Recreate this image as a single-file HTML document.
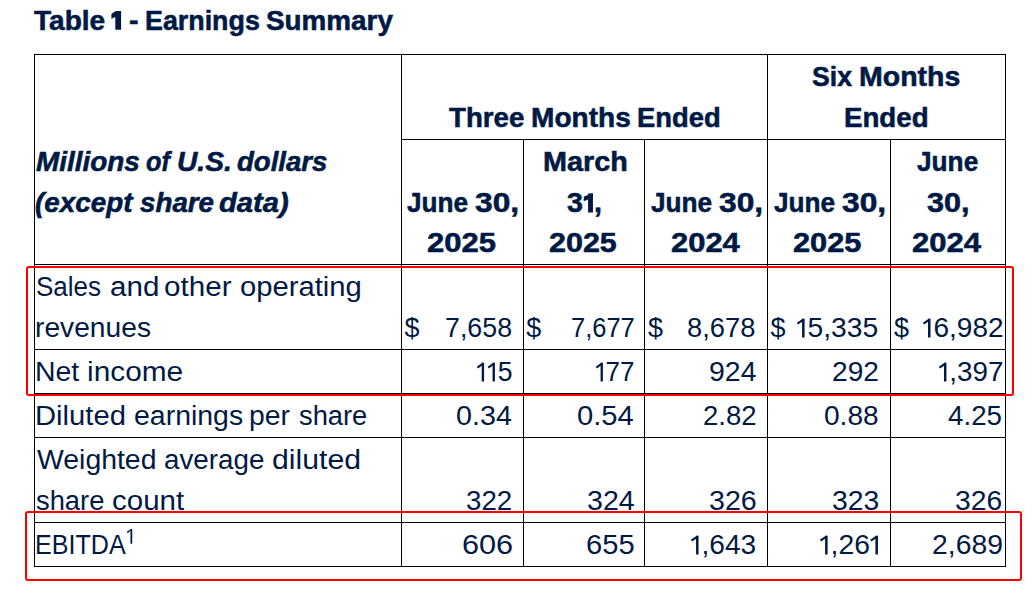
<!DOCTYPE html>
<html><head><meta charset="utf-8"><title>Table 1 - Earnings Summary</title>
<style>
html,body{margin:0;padding:0;background:#fff;width:1034px;height:598px;overflow:hidden}
body{position:relative;font-family:"Liberation Sans",sans-serif;color:#001a45}
.t{position:absolute;white-space:pre;line-height:40px}
.h{position:absolute;height:1px;background:#000}
.v{position:absolute;width:1px;background:#000}
.o{position:relative;color:transparent;-webkit-text-stroke-color:transparent}
.os{position:absolute;left:0;top:0;fill:#001a45;color:#001a45}
.box{position:absolute;box-sizing:border-box;border:2px solid #ff0000;border-radius:3px}
</style></head><body>
<div class="h" style="left:34px;top:54px;width:972px"></div>
<div class="h" style="left:401px;top:139px;width:605px"></div>
<div class="h" style="left:34px;top:264px;width:972px"></div>
<div class="h" style="left:34px;top:349px;width:972px"></div>
<div class="h" style="left:34px;top:393px;width:972px"></div>
<div class="h" style="left:34px;top:437px;width:972px"></div>
<div class="h" style="left:34px;top:522px;width:972px"></div>
<div class="h" style="left:34px;top:566px;width:972px"></div>
<div class="v" style="left:34px;top:54px;height:513px"></div>
<div class="v" style="left:401px;top:54px;height:513px"></div>
<div class="v" style="left:523px;top:139px;height:428px"></div>
<div class="v" style="left:644px;top:139px;height:428px"></div>
<div class="v" style="left:767px;top:54px;height:513px"></div>
<div class="v" style="left:890px;top:139px;height:428px"></div>
<div class="v" style="left:1005px;top:54px;height:513px"></div>
<div class="t" style="left:34.30px;top:1.00px;font-size:27px;font-weight:bold;font-style:normal;transform:scaleX(1.0397);transform-origin:0 0;-webkit-text-stroke:0.55px currentColor">Table</div>
<div class="t" style="left:128.60px;top:1.00px;font-size:27px;font-weight:bold;font-style:normal;transform:scaleX(1.0571);transform-origin:0 0;-webkit-text-stroke:0.55px currentColor">-</div>
<div class="t" style="left:144.70px;top:1.00px;font-size:27px;font-weight:bold;font-style:normal;transform:scaleX(0.9939);transform-origin:0 0;-webkit-text-stroke:0.55px currentColor">Earnings</div>
<div class="t" style="left:265.70px;top:1.00px;font-size:27px;font-weight:bold;font-style:normal;transform:scaleX(1.0311);transform-origin:0 0;-webkit-text-stroke:0.55px currentColor">Summary</div>
<div class="t" style="left:449.30px;top:97.80px;font-size:27px;font-weight:bold;font-style:normal;transform:scaleX(1.0247);transform-origin:0 0;-webkit-text-stroke:0.55px currentColor">Three</div>
<div class="t" style="left:531.30px;top:97.80px;font-size:27px;font-weight:bold;font-style:normal;transform:scaleX(1.0394);transform-origin:0 0;-webkit-text-stroke:0.55px currentColor">Months</div>
<div class="t" style="left:636.90px;top:97.80px;font-size:27px;font-weight:bold;font-style:normal;transform:scaleX(1.0138);transform-origin:0 0;-webkit-text-stroke:0.55px currentColor">Ended</div>
<div class="t" style="left:811.90px;top:56.70px;font-size:27px;font-weight:bold;font-style:normal;transform:scaleX(0.9875);transform-origin:0 0;-webkit-text-stroke:0.55px currentColor">Six</div>
<div class="t" style="left:859.00px;top:56.70px;font-size:27px;font-weight:bold;font-style:normal;transform:scaleX(1.0553);transform-origin:0 0;-webkit-text-stroke:0.55px currentColor">Months</div>
<div class="t" style="left:844.40px;top:97.80px;font-size:27px;font-weight:bold;font-style:normal;transform:scaleX(1.0250);transform-origin:0 0;-webkit-text-stroke:0.55px currentColor">Ended</div>
<div class="t" style="left:36.40px;top:142.00px;font-size:27px;font-weight:bold;font-style:italic;transform:scaleX(1.0330);transform-origin:0 0;-webkit-text-stroke:0.55px currentColor">Millions</div>
<div class="t" style="left:146.00px;top:142.00px;font-size:27px;font-weight:bold;font-style:italic;transform:scaleX(0.9357);transform-origin:0 0;-webkit-text-stroke:0.55px currentColor">of</div>
<div class="t" style="left:177.00px;top:142.00px;font-size:27px;font-weight:bold;font-style:italic;transform:scaleX(1.0440);transform-origin:0 0;-webkit-text-stroke:0.55px currentColor">U.S.</div>
<div class="t" style="left:236.60px;top:142.00px;font-size:27px;font-weight:bold;font-style:italic;transform:scaleX(1.0216);transform-origin:0 0;-webkit-text-stroke:0.55px currentColor">dollars</div>
<div class="t" style="left:35.40px;top:182.50px;font-size:27px;font-weight:bold;font-style:italic;transform:scaleX(1.0316);transform-origin:0 0;-webkit-text-stroke:0.55px currentColor">(except</div>
<div class="t" style="left:140.20px;top:182.50px;font-size:27px;font-weight:bold;font-style:italic;transform:scaleX(1.0278);transform-origin:0 0;-webkit-text-stroke:0.55px currentColor">share</div>
<div class="t" style="left:219.10px;top:182.50px;font-size:27px;font-weight:bold;font-style:italic;transform:scaleX(1.0797);transform-origin:0 0;-webkit-text-stroke:0.55px currentColor">data)</div>
<div class="t" style="left:407.30px;top:182.50px;font-size:27px;font-weight:bold;font-style:normal;transform:scaleX(0.9698);transform-origin:0 0;-webkit-text-stroke:0.55px currentColor">June</div>
<div class="t" style="left:475.00px;top:182.50px;font-size:27px;font-weight:bold;font-style:normal;transform:scaleX(1.1750);transform-origin:0 0;-webkit-text-stroke:0.55px currentColor">30,</div>
<div class="t" style="left:651.10px;top:182.50px;font-size:27px;font-weight:bold;font-style:normal;transform:scaleX(0.9698);transform-origin:0 0;-webkit-text-stroke:0.55px currentColor">June</div>
<div class="t" style="left:718.80px;top:182.50px;font-size:27px;font-weight:bold;font-style:normal;transform:scaleX(1.1750);transform-origin:0 0;-webkit-text-stroke:0.55px currentColor">30,</div>
<div class="t" style="left:774.30px;top:182.50px;font-size:27px;font-weight:bold;font-style:normal;transform:scaleX(0.9698);transform-origin:0 0;-webkit-text-stroke:0.55px currentColor">June</div>
<div class="t" style="left:842.00px;top:182.50px;font-size:27px;font-weight:bold;font-style:normal;transform:scaleX(1.1750);transform-origin:0 0;-webkit-text-stroke:0.55px currentColor">30,</div>
<div class="t" style="left:426.80px;top:222.50px;font-size:27px;font-weight:bold;font-style:normal;transform:scaleX(1.1483);transform-origin:0 0;-webkit-text-stroke:0.55px currentColor">2025</div>
<div class="t" style="left:542.90px;top:142.00px;font-size:27px;font-weight:bold;font-style:normal;transform:scaleX(1.0662);transform-origin:0 0;-webkit-text-stroke:0.55px currentColor">March</div>
<div class="t" style="left:566.80px;top:182.50px;font-size:27px;font-weight:bold;font-style:normal;transform:scaleX(1.0594);transform-origin:0 0;-webkit-text-stroke:0.55px currentColor">3<span class="o" style="margin:0 -3.5px 0 -1px">1<svg class="os" width="15" height="27" viewBox="0 0 15 27"><path d="M5.9 5.4H10.5V24.6H5.9Z"/><path d="M8.6 5.4L10.5 5.4L10.5 9.6L5.9 11.6L1.8 13.2L1.8 8.8Q5 7.4 8.6 5.4Z"/></svg></span>,</div>
<div class="t" style="left:548.90px;top:222.50px;font-size:27px;font-weight:bold;font-style:normal;transform:scaleX(1.1283);transform-origin:0 0;-webkit-text-stroke:0.55px currentColor">2025</div>
<div class="t" style="left:670.60px;top:222.50px;font-size:27px;font-weight:bold;font-style:normal;transform:scaleX(1.1450);transform-origin:0 0;-webkit-text-stroke:0.55px currentColor">2024</div>
<div class="t" style="left:793.40px;top:222.50px;font-size:27px;font-weight:bold;font-style:normal;transform:scaleX(1.1400);transform-origin:0 0;-webkit-text-stroke:0.55px currentColor">2025</div>
<div class="t" style="left:917.30px;top:142.00px;font-size:27px;font-weight:bold;font-style:normal;transform:scaleX(0.9714);transform-origin:0 0;-webkit-text-stroke:0.55px currentColor">June</div>
<div class="t" style="left:927.20px;top:182.50px;font-size:27px;font-weight:bold;font-style:normal;transform:scaleX(1.1306);transform-origin:0 0;-webkit-text-stroke:0.55px currentColor">30,</div>
<div class="t" style="left:912.00px;top:222.50px;font-size:27px;font-weight:bold;font-style:normal;transform:scaleX(1.1500);transform-origin:0 0;-webkit-text-stroke:0.55px currentColor">2024</div>
<div class="t" style="left:36.20px;top:266.50px;font-size:27px;font-weight:normal;font-style:normal;transform:scaleX(0.9621);transform-origin:0 0">Sales</div>
<div class="t" style="left:109.60px;top:266.50px;font-size:27px;font-weight:normal;font-style:normal;transform:scaleX(1.0952);transform-origin:0 0">and</div>
<div class="t" style="left:163.80px;top:266.50px;font-size:27px;font-weight:normal;font-style:normal;transform:scaleX(1.0967);transform-origin:0 0">other</div>
<div class="t" style="left:239.50px;top:266.50px;font-size:27px;font-weight:normal;font-style:normal;transform:scaleX(1.0818);transform-origin:0 0">operating</div>
<div class="t" style="left:35.20px;top:307.50px;font-size:27px;font-weight:normal;font-style:normal;transform:scaleX(1.0444);transform-origin:0 0">revenues</div>
<div class="t" style="left:35.20px;top:351.90px;font-size:27px;font-weight:normal;font-style:normal;transform:scaleX(1.0525);transform-origin:0 0">Net</div>
<div class="t" style="left:86.50px;top:351.90px;font-size:27px;font-weight:normal;font-style:normal;transform:scaleX(1.1048);transform-origin:0 0">income</div>
<div class="t" style="left:35.20px;top:395.80px;font-size:27px;font-weight:normal;font-style:normal;transform:scaleX(1.0813);transform-origin:0 0">Diluted</div>
<div class="t" style="left:133.60px;top:395.80px;font-size:27px;font-weight:normal;font-style:normal;transform:scaleX(1.0539);transform-origin:0 0">earnings</div>
<div class="t" style="left:249.00px;top:395.80px;font-size:27px;font-weight:normal;font-style:normal;transform:scaleX(1.0486);transform-origin:0 0">per</div>
<div class="t" style="left:299.30px;top:395.80px;font-size:27px;font-weight:normal;font-style:normal;transform:scaleX(1.0106);transform-origin:0 0">share</div>
<div class="t" style="left:37.20px;top:439.70px;font-size:27px;font-weight:normal;font-style:normal;transform:scaleX(1.0518);transform-origin:0 0">Weighted</div>
<div class="t" style="left:163.80px;top:439.70px;font-size:27px;font-weight:normal;font-style:normal;transform:scaleX(1.0281);transform-origin:0 0">average</div>
<div class="t" style="left:271.70px;top:439.70px;font-size:27px;font-weight:normal;font-style:normal;transform:scaleX(1.1182);transform-origin:0 0">diluted</div>
<div class="t" style="left:36.20px;top:480.80px;font-size:27px;font-weight:normal;font-style:normal;transform:scaleX(1.0121);transform-origin:0 0">share</div>
<div class="t" style="left:111.90px;top:480.80px;font-size:27px;font-weight:normal;font-style:normal;transform:scaleX(1.0923);transform-origin:0 0">count</div>
<div class="t" style="left:35.20px;top:524.90px;font-size:27px;font-weight:normal;font-style:normal;transform:scaleX(0.9295);transform-origin:0 0">EBITDA</div>
<div class="t" style="left:444.90px;top:307.50px;font-size:27px;font-weight:normal;font-style:normal;transform:scaleX(0.9924);transform-origin:0 0">7,658</div>
<div class="t" style="left:571.00px;top:307.50px;font-size:27px;font-weight:normal;font-style:normal;transform:scaleX(0.9431);transform-origin:0 0">7,677</div>
<div class="t" style="left:687.30px;top:307.50px;font-size:27px;font-weight:normal;font-style:normal;transform:scaleX(1.0121);transform-origin:0 0">8,678</div>
<div class="t" style="left:796.40px;top:307.50px;font-size:27px;font-weight:normal;font-style:normal;transform:scaleX(1.0468);transform-origin:0 0"><span class="o" style="margin:0 -2.5px 0 -1.5px">1<svg class="os" width="15" height="27" viewBox="0 0 15 27"><path d="M6.8 5.8H9.2V24.4H6.8Z"/><path d="M8.4 6.4L2.4 10.6" stroke="currentColor" stroke-width="2.1" fill="none"/></svg></span>5,335</div>
<div class="t" style="left:921.60px;top:307.50px;font-size:27px;font-weight:normal;font-style:normal;transform:scaleX(1.0382);transform-origin:0 0"><span class="o" style="margin:0 -2.5px 0 -1.5px">1<svg class="os" width="15" height="27" viewBox="0 0 15 27"><path d="M6.8 5.8H9.2V24.4H6.8Z"/><path d="M8.4 6.4L2.4 10.6" stroke="currentColor" stroke-width="2.1" fill="none"/></svg></span>6,982</div>
<div class="t" style="left:475.90px;top:351.90px;font-size:27px;font-weight:normal;font-style:normal;transform:scaleX(0.9857);transform-origin:0 0"><span class="o" style="margin:0 -2.5px 0 -1.5px">1<svg class="os" width="15" height="27" viewBox="0 0 15 27"><path d="M6.8 5.8H9.2V24.4H6.8Z"/><path d="M8.4 6.4L2.4 10.6" stroke="currentColor" stroke-width="2.1" fill="none"/></svg></span><span class="o" style="margin:0 -2.5px 0 -1.5px">1<svg class="os" width="15" height="27" viewBox="0 0 15 27"><path d="M6.8 5.8H9.2V24.4H6.8Z"/><path d="M8.4 6.4L2.4 10.6" stroke="currentColor" stroke-width="2.1" fill="none"/></svg></span>5</div>
<div class="t" style="left:594.80px;top:351.90px;font-size:27px;font-weight:normal;font-style:normal;transform:scaleX(0.9615);transform-origin:0 0"><span class="o" style="margin:0 -2.5px 0 -1.5px">1<svg class="os" width="15" height="27" viewBox="0 0 15 27"><path d="M6.8 5.8H9.2V24.4H6.8Z"/><path d="M8.4 6.4L2.4 10.6" stroke="currentColor" stroke-width="2.1" fill="none"/></svg></span>77</div>
<div class="t" style="left:708.80px;top:351.90px;font-size:27px;font-weight:normal;font-style:normal;transform:scaleX(1.0535);transform-origin:0 0">924</div>
<div class="t" style="left:832.20px;top:351.90px;font-size:27px;font-weight:normal;font-style:normal;transform:scaleX(1.0419);transform-origin:0 0">292</div>
<div class="t" style="left:937.70px;top:351.90px;font-size:27px;font-weight:normal;font-style:normal;transform:scaleX(1.0295);transform-origin:0 0"><span class="o" style="margin:0 -2.5px 0 -1.5px">1<svg class="os" width="15" height="27" viewBox="0 0 15 27"><path d="M6.8 5.8H9.2V24.4H6.8Z"/><path d="M8.4 6.4L2.4 10.6" stroke="currentColor" stroke-width="2.1" fill="none"/></svg></span>,397</div>
<div class="t" style="left:456.20px;top:395.80px;font-size:27px;font-weight:normal;font-style:normal;transform:scaleX(1.0627);transform-origin:0 0">0.34</div>
<div class="t" style="left:577.20px;top:395.80px;font-size:27px;font-weight:normal;font-style:normal;transform:scaleX(1.0804);transform-origin:0 0">0.54</div>
<div class="t" style="left:703.10px;top:395.80px;font-size:27px;font-weight:normal;font-style:normal;transform:scaleX(1.0200);transform-origin:0 0">2.82</div>
<div class="t" style="left:824.00px;top:395.80px;font-size:27px;font-weight:normal;font-style:normal;transform:scaleX(1.0392);transform-origin:0 0">0.88</div>
<div class="t" style="left:948.10px;top:395.80px;font-size:27px;font-weight:normal;font-style:normal;transform:scaleX(1.0275);transform-origin:0 0">4.25</div>
<div class="t" style="left:466.30px;top:480.80px;font-size:27px;font-weight:normal;font-style:normal;transform:scaleX(1.0256);transform-origin:0 0">322</div>
<div class="t" style="left:586.80px;top:480.80px;font-size:27px;font-weight:normal;font-style:normal;transform:scaleX(1.0581);transform-origin:0 0">324</div>
<div class="t" style="left:708.50px;top:480.80px;font-size:27px;font-weight:normal;font-style:normal;transform:scaleX(1.0605);transform-origin:0 0">326</div>
<div class="t" style="left:831.90px;top:480.80px;font-size:27px;font-weight:normal;font-style:normal;transform:scaleX(1.0488);transform-origin:0 0">323</div>
<div class="t" style="left:955.40px;top:480.80px;font-size:27px;font-weight:normal;font-style:normal;transform:scaleX(1.0488);transform-origin:0 0">326</div>
<div class="t" style="left:461.60px;top:524.90px;font-size:27px;font-weight:normal;font-style:normal;transform:scaleX(1.1349);transform-origin:0 0">606</div>
<div class="t" style="left:585.80px;top:524.90px;font-size:27px;font-weight:normal;font-style:normal;transform:scaleX(1.0814);transform-origin:0 0">655</div>
<div class="t" style="left:689.50px;top:524.90px;font-size:27px;font-weight:normal;font-style:normal;transform:scaleX(1.0419);transform-origin:0 0"><span class="o" style="margin:0 -2.5px 0 -1.5px">1<svg class="os" width="15" height="27" viewBox="0 0 15 27"><path d="M6.8 5.8H9.2V24.4H6.8Z"/><path d="M8.4 6.4L2.4 10.6" stroke="currentColor" stroke-width="2.1" fill="none"/></svg></span>,643</div>
<div class="t" style="left:819.30px;top:524.90px;font-size:27px;font-weight:normal;font-style:normal;transform:scaleX(1.0491);transform-origin:0 0"><span class="o" style="margin:0 -2.5px 0 -1.5px">1<svg class="os" width="15" height="27" viewBox="0 0 15 27"><path d="M6.8 5.8H9.2V24.4H6.8Z"/><path d="M8.4 6.4L2.4 10.6" stroke="currentColor" stroke-width="2.1" fill="none"/></svg></span>,26<span class="o" style="margin:0 -2.5px 0 -1.5px">1<svg class="os" width="15" height="27" viewBox="0 0 15 27"><path d="M6.8 5.8H9.2V24.4H6.8Z"/><path d="M8.4 6.4L2.4 10.6" stroke="currentColor" stroke-width="2.1" fill="none"/></svg></span></div>
<div class="t" style="left:932.30px;top:524.90px;font-size:27px;font-weight:normal;font-style:normal;transform:scaleX(1.0492);transform-origin:0 0">2,689</div>
<div class="t" style="left:404.40px;top:307.50px;font-size:27px;font-weight:normal;font-style:normal">$</div>
<div class="t" style="left:526.20px;top:307.50px;font-size:27px;font-weight:normal;font-style:normal">$</div>
<div class="t" style="left:647.90px;top:307.50px;font-size:27px;font-weight:normal;font-style:normal">$</div>
<div class="t" style="left:770.60px;top:307.50px;font-size:27px;font-weight:normal;font-style:normal">$</div>
<div class="t" style="left:894.00px;top:307.50px;font-size:27px;font-weight:normal;font-style:normal">$</div>
<svg style="position:absolute;left:110px;top:10px" width="12" height="21" viewBox="110 10 12 21"><path d="M115.8 11H121.1V29.8H115.3V17.1L111.4 18.8V14.1Q113.4 12.6 115.8 11Z" fill="#001a45"/></svg>
<svg style="position:absolute;left:126px;top:528px" width="8" height="17" viewBox="0 0 8 17"><path d="M5.35 1.2V15.7" stroke="#001a45" stroke-width="1.8" fill="none"/><path d="M5.9 1.4Q3.6 2.6 1.2 4.6" stroke="#001a45" stroke-width="1.5" fill="none"/></svg>
<div class="box" style="left:26px;top:266px;width:988px;height:130px"></div>
<div class="box" style="left:25px;top:511px;width:997px;height:70px"></div>
</body></html>
